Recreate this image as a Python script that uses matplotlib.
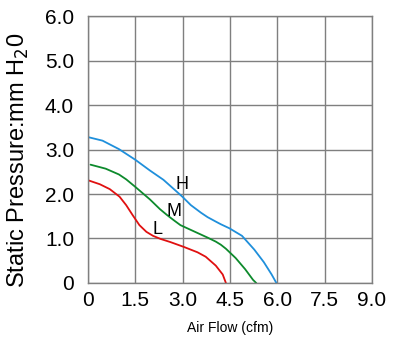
import matplotlib
matplotlib.use("Agg")
import matplotlib.pyplot as plt

plt.rcParams['font.family'] = ['Liberation Sans', 'DejaVu Sans']

x_ticks = [0, 1.5, 3.0, 4.5, 6.0, 7.5, 9.0]
x_tick_labels = ["0", "1.5", "3.0", "4.5", "6.0", "7.5", "9.0"]
y_ticks = [0, 1, 2, 3, 4, 5, 6]
y_tick_labels = ["0", "1.0", "2.0", "3.0", "4.0", "5.0", "6.0"]

h_flow = [0.0, 0.46, 0.98, 1.5, 1.96, 2.39, 2.77, 2.99, 3.26, 3.58, 3.79, 4.05, 4.21, 4.48, 4.88, 5.27, 5.57, 5.82, 5.97]
h_pres = [3.28, 3.20, 3.01, 2.77, 2.53, 2.32, 2.08, 1.94, 1.75, 1.58, 1.48, 1.38, 1.32, 1.23, 1.06, 0.75, 0.47, 0.19, 0.0]

m_flow = [0.08, 0.56, 0.98, 1.21, 1.5, 1.96, 2.28, 2.5, 2.72, 2.93, 3.36, 3.79, 4.05, 4.21, 4.37, 4.68, 4.98, 5.23, 5.33]
m_pres = [2.66, 2.57, 2.44, 2.33, 2.16, 1.88, 1.66, 1.53, 1.41, 1.30, 1.16, 1.02, 0.93, 0.86, 0.77, 0.56, 0.31, 0.07, 0.0]

l_flow = [0.0, 0.375, 0.69, 1.0, 1.21, 1.42, 1.63, 1.85, 2.06, 2.3, 2.61, 3.04, 3.47, 3.73, 4.05, 4.27, 4.37]
l_pres = [2.31, 2.22, 2.11, 1.94, 1.75, 1.52, 1.30, 1.15, 1.06, 0.99, 0.92, 0.81, 0.69, 0.59, 0.39, 0.19, 0.0]

fig = plt.figure(figsize=(4.0, 3.43), dpi=100)
ax = fig.add_axes([0.22, 0.175, 0.71, 0.778])

kw = dict(lw=1.3, solid_joinstyle='round', solid_capstyle='round')
ax.plot(h_flow, h_pres, color='#1f8fdb', **kw)
ax.plot(m_flow, m_pres, color='#0d8a2c', **kw)
ax.plot(l_flow, l_pres, color='#e01010', **kw)

ax.text(2.98, 2.02, "H", fontsize=13, ha='center', va='bottom')
ax.text(2.72, 1.42, "M", fontsize=13, ha='center', va='bottom')
ax.text(2.2, 1.02, "L", fontsize=13, ha='center', va='bottom')

ax.set_xlim(0, 9.0)
ax.set_ylim(0, 6.0)
ax.set_xticks(x_ticks)
ax.set_xticklabels(x_tick_labels, fontsize=15)
ax.set_yticks(y_ticks)
ax.set_yticklabels(y_tick_labels, fontsize=15)
ax.tick_params(axis='x', length=0, pad=6)
ax.tick_params(axis='y', length=0, pad=10)
ax.grid(True, color='#7f7f7f', lw=1)
for s in ax.spines.values():
    s.set_color('#7f7f7f')
    s.set_linewidth(1)

ax.set_xlabel("Air Flow (cfm)", fontsize=10, labelpad=8)
ax.set_ylabel("Static Pressure:mm H$_2$0", fontsize=17)
ax.yaxis.set_label_coords(-0.2, 0.46)

fig.savefig("out.png", dpi=100)
